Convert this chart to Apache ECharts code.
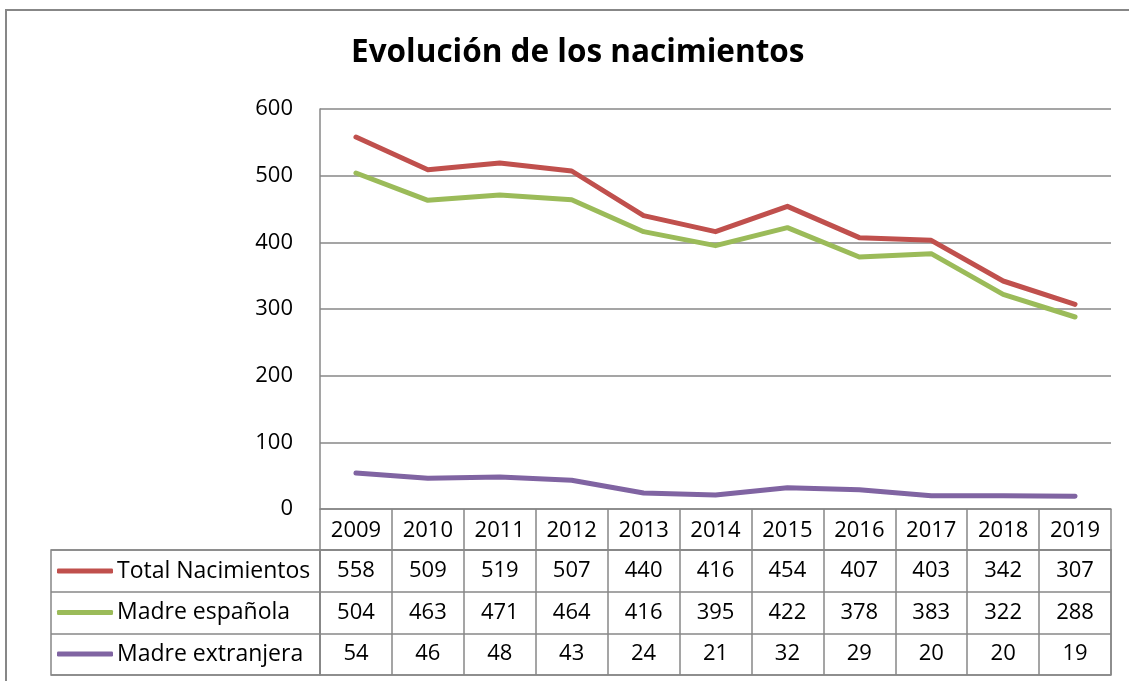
<!DOCTYPE html>
<html>
<head>
<meta charset="utf-8">
<script src="https://cdn.jsdelivr.net/npm/echarts@6/dist/echarts.min.js"></script>
<style>
  html, body { margin: 0; padding: 0; background: #fff; }
  #chart { width: 1129px; height: 681px; }
</style>
</head>
<body>
<div id="chart"></div>
<script>
// Data
const years = ['2009', '2010', '2011', '2012', '2013', '2014', '2015', '2016', '2017', '2018', '2019'];
const seriesNames = ['Total Nacimientos', 'Madre española', 'Madre extranjera'];
const totalNacimientos = [558, 509, 519, 507, 440, 416, 454, 407, 403, 342, 307];
const madreEspanola = [504, 463, 471, 464, 416, 395, 422, 378, 383, 322, 288];
const madreExtranjera = [54, 46, 48, 43, 24, 21, 32, 29, 20, 20, 19];
const yTicks = [0, 100, 200, 300, 400, 500, 600];

const colors = ['#C0504D', '#9BBB59', '#8064A2'];
const gridGray = '#878787';
const font = 'Open Sans';
const numSize = 22;

const chart = echarts.init(document.getElementById('chart'));

// table cell values: [yearIndex, rowIndex, value]
const tableCells = [];
[totalNacimientos, madreEspanola, madreExtranjera].forEach((vals, r) => {
    vals.forEach((v, i) => tableCells.push([i, r, v]));
});

const option = {
    animation: false,
    textStyle: { fontFamily: font, color: '#000' },
    title: {
        text: 'Evolución de los nacimientos',
        left: 346,
        top: 32,
        textStyle: { fontFamily: font, fontSize: 31.5, fontWeight: 'bold', color: '#000' }
    },
    graphic: [{
        type: 'rect',
        shape: { x: 6, y: 10, width: 1200, height: 700 },
        style: { fill: 'none', stroke: gridGray, lineWidth: 2 },
        silent: true
    }],
    legend: {
        orient: 'vertical',
        left: 52,
        top: 554,
        itemGap: 17.5,
        itemWidth: 56,
        itemHeight: 5,
        icon: 'roundRect',
        textStyle: { fontFamily: font, fontSize: 23, color: '#000', lineHeight: 24, padding: [0, 0, 0, -1] },
        data: seriesNames
    },
    grid: [
        // plot area
        { left: 320, top: 109, width: 791, height: 400 },
        // table values
        { left: 320, top: 550, width: 791, height: 125, show: true, borderColor: gridGray, borderWidth: 1.5 },
        // legend column of the table
        { left: 51, top: 550, width: 269, height: 125, show: true, borderColor: gridGray, borderWidth: 1.5 }
    ],
    xAxis: [
        {
            gridIndex: 0, type: 'category', data: years, boundaryGap: true,
            axisLine: { show: true, lineStyle: { color: gridGray, width: 1.5 } },
            axisTick: { show: false },
            axisLabel: { show: false },
            splitLine: { show: false }
        },
        {
            gridIndex: 1, type: 'category', data: years, boundaryGap: true, position: 'top',
            axisLine: { show: true, lineStyle: { color: gridGray, width: 1.5 } },
            axisTick: { show: true, interval: 0, length: 41, lineStyle: { color: gridGray, width: 1.5 } },
            axisLabel: { interval: 0, margin: 8, fontFamily: font, fontSize: numSize, color: '#000' },
            splitLine: { show: true, interval: 0, lineStyle: { color: gridGray, width: 1.5 } }
        },
        {
            gridIndex: 2, type: 'value', show: false
        }
    ],
    yAxis: [
        {
            gridIndex: 0, type: 'value', min: 0, max: 600, interval: 100,
            axisLine: { show: true, lineStyle: { color: gridGray, width: 1.5 } },
            axisTick: { show: false },
            axisLabel: {
                margin: 27, fontFamily: font, fontSize: numSize, color: '#000',
                customValues: yTicks
            },
            splitLine: { show: true, lineStyle: { color: gridGray, width: 1.5 } }
        },
        {
            gridIndex: 1, type: 'category', data: seriesNames, inverse: true,
            axisLine: { show: false }, axisTick: { show: false }, axisLabel: { show: false },
            splitLine: { show: true, interval: 0, lineStyle: { color: gridGray, width: 1.5 } }
        },
        {
            gridIndex: 2, type: 'category', data: seriesNames, inverse: true,
            axisLine: { show: false }, axisTick: { show: false }, axisLabel: { show: false },
            splitLine: { show: true, interval: 0, lineStyle: { color: gridGray, width: 1.5 } }
        }
    ],
    series: [
        {
            name: seriesNames[0], type: 'line', data: totalNacimientos,
            xAxisIndex: 0, yAxisIndex: 0, symbol: 'none',
            lineStyle: { color: colors[0], width: 5, cap: 'round', join: 'round' },
            itemStyle: { color: colors[0] }
        },
        {
            name: seriesNames[1], type: 'line', data: madreEspanola,
            xAxisIndex: 0, yAxisIndex: 0, symbol: 'none',
            lineStyle: { color: colors[1], width: 5, cap: 'round', join: 'round' },
            itemStyle: { color: colors[1] }
        },
        {
            name: seriesNames[2], type: 'line', data: madreExtranjera,
            xAxisIndex: 0, yAxisIndex: 0, symbol: 'none',
            lineStyle: { color: colors[2], width: 5, cap: 'round', join: 'round' },
            itemStyle: { color: colors[2] }
        },
        {
            type: 'scatter', xAxisIndex: 1, yAxisIndex: 1, data: tableCells,
            symbolSize: 1, itemStyle: { color: '#fff', opacity: 1 }, silent: true,
            label: {
                show: true, position: 'inside', fontFamily: font, fontSize: numSize,
                color: '#000', opacity: 1, textBorderWidth: 0,
                formatter: p => String(p.value[2])
            }
        }
    ]
};

chart.setOption(option);
</script>
</body>
</html>
